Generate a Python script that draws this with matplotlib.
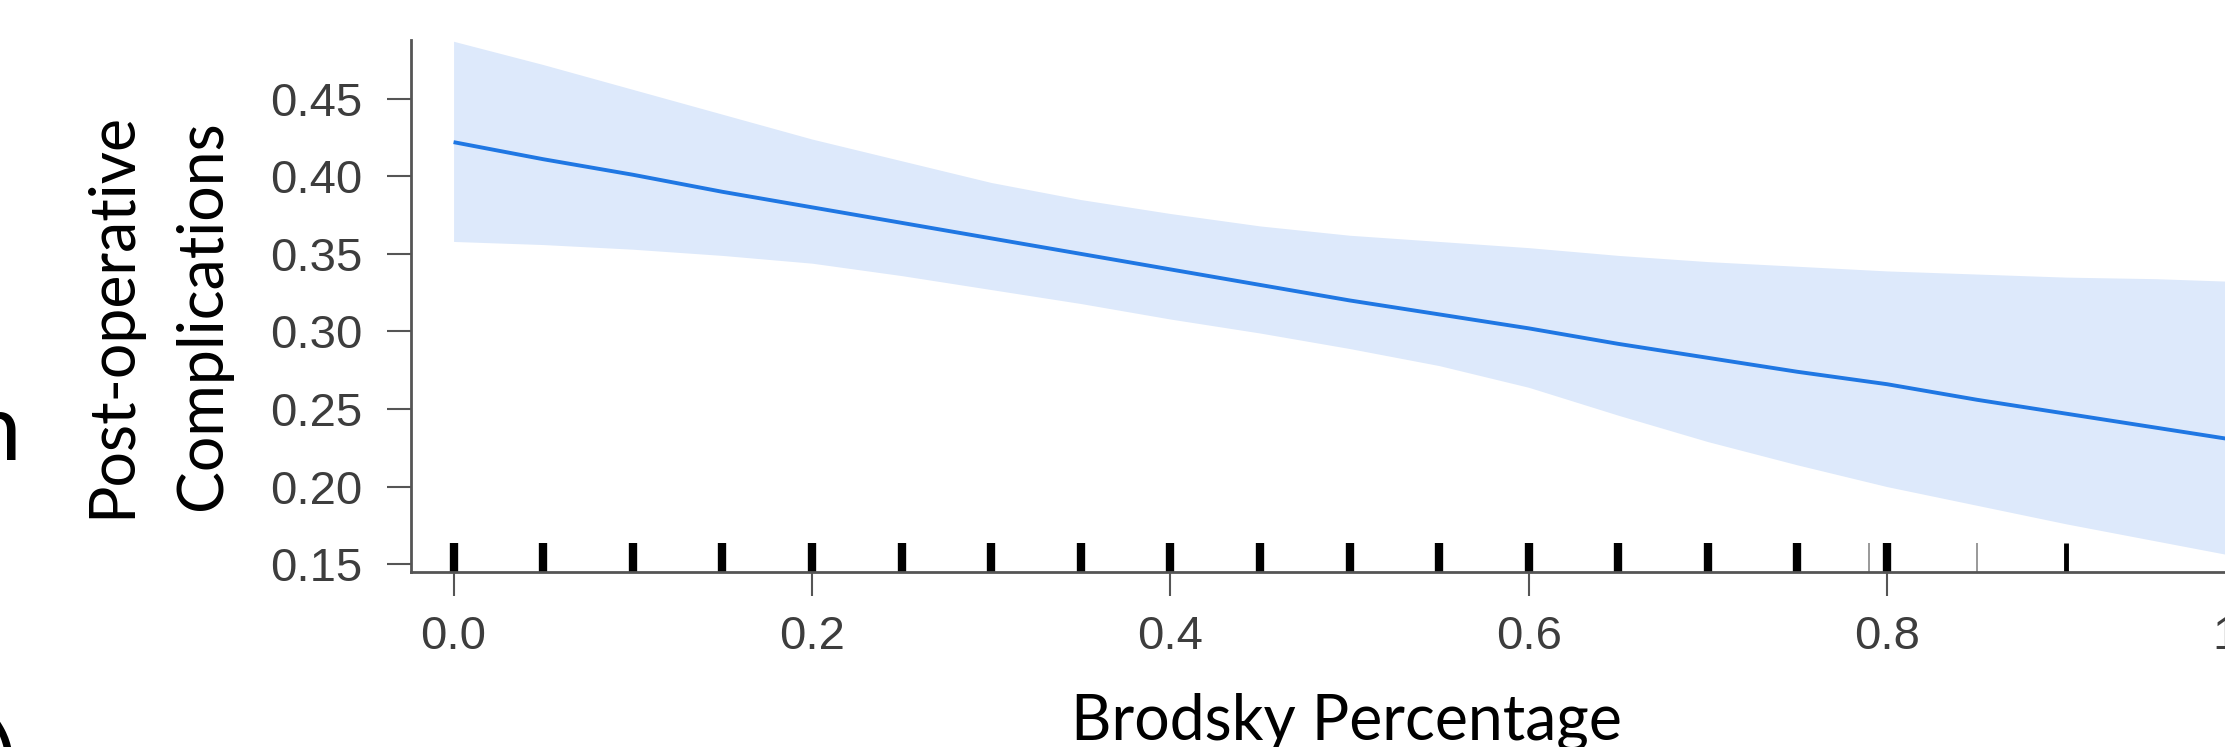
import matplotlib
matplotlib.use("Agg")
import matplotlib.pyplot as plt
import numpy as np

# predicted probability with 95% band (JASP style)
brodsky = [0.0, 0.05, 0.1, 0.15, 0.2, 0.25, 0.3, 0.35, 0.4, 0.45, 0.5,
           0.55, 0.6, 0.65, 0.7, 0.75, 0.8, 0.85, 0.9, 0.95, 1.0]
fit = [0.422, 0.411, 0.401, 0.390, 0.380, 0.370, 0.360, 0.350, 0.340, 0.330, 0.320,
       0.311, 0.302, 0.292, 0.283, 0.274, 0.266, 0.256, 0.247, 0.238, 0.229]
ci_upper = [0.487, 0.472, 0.456, 0.440, 0.424, 0.410, 0.396, 0.385, 0.376, 0.368, 0.362,
            0.358, 0.354, 0.349, 0.345, 0.342, 0.339, 0.337, 0.335, 0.334, 0.332]
ci_lower = [0.358, 0.356, 0.353, 0.349, 0.344, 0.336, 0.327, 0.318, 0.308, 0.299, 0.289,
            0.278, 0.264, 0.246, 0.229, 0.214, 0.200, 0.188, 0.176, 0.165, 0.154]

# rug of observed values
rug_x = [0.0, 0.05, 0.1, 0.15, 0.2, 0.25, 0.3, 0.35, 0.4, 0.45, 0.5, 0.55,
         0.6, 0.65, 0.7, 0.75, 0.8, 0.79, 0.85, 0.9]
rug_w = [6.0] * 17 + [1.2, 1.2, 3.5]
rug_c = ['black'] * 17 + ['#888888', '#888888', 'black']

xticks = [0.0, 0.2, 0.4, 0.6, 0.8, 1.0]
yticks = [0.15, 0.20, 0.25, 0.30, 0.35, 0.40, 0.45]

fig = plt.figure(figsize=(22.25, 7.47), dpi=100)
ax = fig.add_axes([0.1846, 0.2339, 0.8568, 0.7123])

ax.fill_between(brodsky, ci_lower, ci_upper, color='#dde9fb', linewidth=0)
ax.plot(brodsky, fit, color='#1f77e3', linewidth=2.8, solid_capstyle='butt')
ax.vlines(rug_x, 0, 0.0545, colors=rug_c, linewidths=rug_w,
          transform=ax.get_xaxis_transform())

ax.set_xlim(-0.0239, 1.04)
ax.set_ylim(0.1448, 0.4877)

ax.set_xticks(xticks)
ax.set_xticklabels(['%.1f' % t for t in xticks])
ax.set_yticks(yticks)
ax.set_yticklabels(['%.2f' % t for t in yticks])

for s in ['top', 'right']:
    ax.spines[s].set_visible(False)
for s in ['left', 'bottom']:
    ax.spines[s].set_color('#555555')
    ax.spines[s].set_linewidth(2.0)

ax.tick_params(axis='both', direction='out', length=17, width=1.5,
               color='#555555', labelcolor='#3d3d3d', labelsize=34)
ax.tick_params(axis='x', pad=14)
ax.tick_params(axis='y', pad=18)
for lab in ax.get_xticklabels() + ax.get_yticklabels():
    lab.set_fontfamily('Liberation Sans')

fig.text(0.605, 0.0094, 'Brodsky Percentage', family='Lato', fontsize=45,
         ha='center', va='baseline', color='black')
fig.text(0.071, 0.578, 'Post-operative\nComplications', family='Lato',
         fontsize=45, rotation=90, ha='center', va='center',
         multialignment='center', linespacing=1.7, color='black')

# bits of neighbouring slide text cut off at the left edge
fig.text(0.0095, 0.384, 'n', family='Lato', fontsize=68, ha='right',
         va='baseline', color='black')
fig.text(0.0075, 0.030, ')', family='Lato', fontsize=68, ha='right',
         va='top', color='black')

fig.savefig('out.png', dpi=100)
